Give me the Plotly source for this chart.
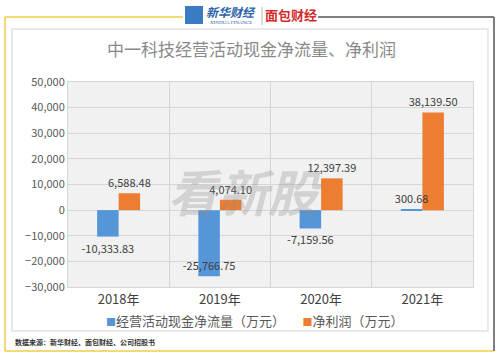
import plotly.graph_objects as go

categories = ["2018年", "2019年", "2020年", "2021年"]
cash_flow = [-10333.83, -25766.75, -7159.56, 300.68]
net_profit = [6588.48, 4074.10, 12397.39, 38139.50]
series_names = ["经营活动现金净流量（万元）", "净利润（万元）"]
series_colors = ["#5596d8", "#ed7d31"]
y_ticks = [-30000, -20000, -10000, 0, 10000, 20000, 30000, 40000, 50000]

W, H = 500, 356
L, R, T, B = 68, 27, 82, 69
PW, PH = W - L - R, H - T - B
BAR_W = 0.2125


def px(x):
    return (x - L) / PW


def py(y):
    return (H - B - y) / PH


FONT = "Noto Sans CJK SC"
fig = go.Figure()
# orange first so that blue labels sit on top of it
fig.add_trace(go.Bar(
    x=categories, y=net_profit, name=series_names[1],
    width=BAR_W, offset=0,
    marker=dict(color=series_colors[1], line=dict(width=0)),
    texttemplate="%{y:,.2f}", textposition="outside", textangle=0, constraintext="none",
    textfont=dict(size=11, color="#404040", family=FONT),
    cliponaxis=False, showlegend=False,
))
fig.add_trace(go.Bar(
    x=categories, y=cash_flow, name=series_names[0],
    width=BAR_W, offset=-BAR_W,
    marker=dict(color=series_colors[0], line=dict(width=0)),
    texttemplate="%{y:,.2f}", textposition=["outside", "inside", "outside", "outside"],
    insidetextanchor="end", textangle=0, constraintext="none",
    textfont=dict(size=11, color="#404040", family=FONT),
    insidetextfont=dict(size=11, color="#404040", family=FONT),
    outsidetextfont=dict(size=11, color="#404040", family=FONT),
    cliponaxis=False, showlegend=False,
))

shapes = []
gold = "#f0cc4a"
dark = "#555555"
shapes.append(dict(type="line", xref="paper", yref="paper", x0=px(5), x1=px(5), y0=py(17), y1=py(351), line=dict(color=gold, width=1.5)))
shapes.append(dict(type="line", xref="paper", yref="paper", x0=px(5), x1=px(494), y0=py(351), y1=py(351), line=dict(color=gold, width=1.5)))
shapes.append(dict(type="line", xref="paper", yref="paper", x0=px(5), x1=px(183), y0=py(17), y1=py(17), line=dict(color=gold, width=1.5)))
shapes.append(dict(type="line", xref="paper", yref="paper", x0=px(318), x1=px(494), y0=py(17), y1=py(17), line=dict(color=dark, width=1.5)))
shapes.append(dict(type="line", xref="paper", yref="paper", x0=px(494), x1=px(494), y0=py(17), y1=py(351), line=dict(color=dark, width=1.5)))
shapes.append(dict(type="rect", xref="paper", yref="paper", x0=px(12), x1=px(488), y0=py(29), y1=py(331), line=dict(color="#dfe3e3", width=1.5), layer="below"))
shapes.append(dict(type="rect", xref="paper", yref="paper", x0=px(185), x1=px(203), y0=py(6), y1=py(24), line=dict(width=0), fillcolor="#3a7cc4"))
shapes.append(dict(type="line", xref="paper", yref="paper", x0=px(262), x1=px(262), y0=py(7), y1=py(25), line=dict(color="#bbbbbb", width=1)))

legend_text = "&nbsp;&nbsp;&nbsp;&nbsp;&nbsp;&nbsp;".join(
    f"<span style='color:{c};font-size:10px'>■</span>{n}" for n, c in zip(series_names, series_colors)
)

annotations = [
    dict(text="中一科技经营活动现金净流量、净利润", x=px(251), y=py(48), xref="paper", yref="paper",
         showarrow=False, font=dict(size=17, color="#8a8a8a", family=FONT), xanchor="center", yanchor="middle"),
    dict(text="看新股", x=px(245), y=py(190), xref="paper", yref="paper", showarrow=False,
         font=dict(size=50, color="rgba(140,140,140,0.3)", family=FONT, weight="bold", style="italic"),
         xanchor="center", yanchor="middle"),
    dict(text=legend_text, x=px(255), y=py(320), xref="paper", yref="paper", showarrow=False,
         font=dict(size=13, color="#595959", family=FONT), xanchor="center", yanchor="middle"),
    dict(text="<b>数据来源：新华财经、面包财经、公司招股书</b>", x=px(13), y=py(342), xref="paper", yref="paper",
         showarrow=False, font=dict(size=7, color="#333333", family=FONT), xanchor="left", yanchor="middle"),
    dict(text="<i><b>新华财经</b></i>", x=px(231), y=py(12), xref="paper", yref="paper", showarrow=False,
         font=dict(size=12, color="#2a62a8", family=FONT), xanchor="center", yanchor="middle"),
    dict(text="XINHUA FINANCE", x=px(231), y=py(23), xref="paper", yref="paper", showarrow=False,
         font=dict(size=5, color="#2a62a8", family="Liberation Serif"), xanchor="center", yanchor="middle"),
    dict(text="<b>面包财经</b>", x=px(291), y=py(15), xref="paper", yref="paper", showarrow=False,
         font=dict(size=13, color="#d42a2a", family=FONT), xanchor="center", yanchor="middle"),
]

fig.update_layout(
    width=W, height=H,
    margin=dict(l=L, r=R, t=T, b=B, pad=0),
    paper_bgcolor="white",
    plot_bgcolor="#f1f1f1",
    barmode="overlay",
    showlegend=False,
    shapes=shapes,
    annotations=annotations,
    font=dict(family=FONT),
)
fig.update_xaxes(
    type="category", tickson="boundaries", showgrid=True, gridcolor="#d6d6d6", gridwidth=1,
    ticks="", showline=True, linecolor="#d6d6d6", mirror=True, automargin=False,
    tickfont=dict(size=13, color="#404040", family=FONT),
)
fig.update_yaxes(
    range=[-30000, 50000], tickvals=y_ticks, tickformat=",", showgrid=True,
    gridcolor="#d6d6d6", gridwidth=1, zeroline=True, zerolinecolor="#d6d6d6", zerolinewidth=1,
    showline=True, linecolor="#d6d6d6", mirror=True, ticks="", automargin=False,
    tickfont=dict(size=11, color="#595959", family=FONT),
)

fig.write_html("out.html", config={"displayModeBar": False},
               post_script="document.body.style.margin='0';document.body.style.overflow='hidden';")
